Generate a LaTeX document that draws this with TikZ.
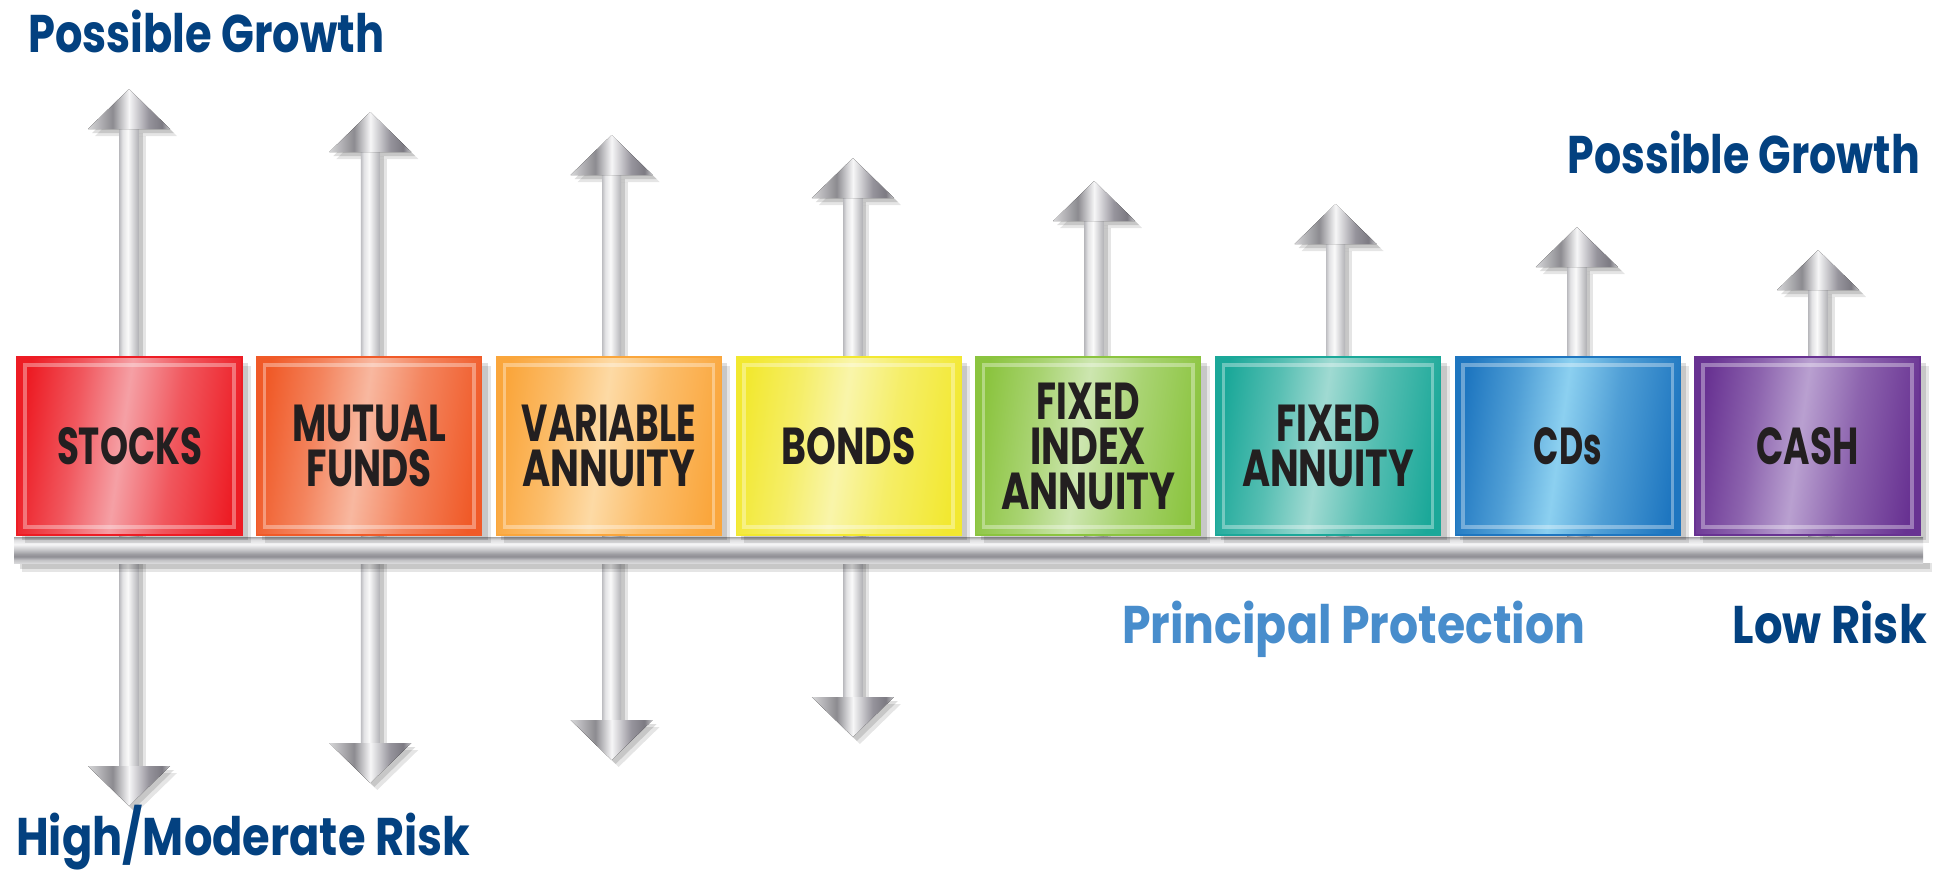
\documentclass[tikz,border=0pt]{standalone}
\usepackage{fontspec}
\usepackage{graphicx}
\newfontfamily\popb{Poppins Bold}
\usetikzlibrary{calc}

\newsavebox\fitbox
\newdimen\fitdim
\newcommand\fitw[2]{\sbox\fitbox{#2}\fitdim=\wd\fitbox\pgfmathsetmacro\fitfac{#1/\fitdim}\scalebox{\fitfac}[1]{\usebox\fitbox}}

\definecolor{titleblue}{RGB}{3,65,128}
\definecolor{protblue}{RGB}{72,141,204}
\definecolor{labelblack}{RGB}{35,31,32}
% shaft
\definecolor{sh0}{RGB}{190,190,194}
\definecolor{sh1}{RGB}{226,226,228}
\definecolor{sh2}{RGB}{250,250,250}
\definecolor{sh3}{RGB}{222,222,224}
\definecolor{sh4}{RGB}{196,196,199}
\definecolor{sh5}{RGB}{178,178,182}
% head
\definecolor{hd0}{RGB}{214,214,216}
\definecolor{hd1}{RGB}{140,139,144}
\definecolor{hd2}{RGB}{246,246,247}
\definecolor{hd3}{RGB}{150,148,156}
\definecolor{hd4}{RGB}{124,122,130}
\definecolor{hd5}{RGB}{200,200,203}
% bar
\definecolor{br1}{RGB}{165,165,168}
\definecolor{br2}{RGB}{220,220,222}
\definecolor{br3}{RGB}{246,246,247}
\definecolor{br4}{RGB}{196,196,199}
\definecolor{br5}{RGB}{158,158,162}
\definecolor{br6}{RGB}{143,142,148}
\definecolor{br7}{RGB}{194,194,197}
\definecolor{br8}{RGB}{216,216,218}
% boxes
\definecolor{c0e}{RGB}{237,28,36}   \definecolor{c0l}{RGB}{245,160,165}
\definecolor{c1e}{RGB}{240,90,40}   \definecolor{c1l}{RGB}{248,184,160}
\definecolor{c2e}{RGB}{250,166,60}  \definecolor{c2l}{RGB}{253,218,165}
\definecolor{c3e}{RGB}{242,232,48}  \definecolor{c3l}{RGB}{249,245,170}
\definecolor{c4e}{RGB}{139,196,63}  \definecolor{c4l}{RGB}{205,230,176}
\definecolor{c5e}{RGB}{27,168,153}  \definecolor{c5l}{RGB}{160,218,210}
\definecolor{c6e}{RGB}{30,118,192}  \definecolor{c6l}{RGB}{140,208,240}
\definecolor{c7e}{RGB}{104,50,146}  \definecolor{c7l}{RGB}{185,160,208}
\colorlet{boxedge}{c0e}\colorlet{boxlight}{c0l}\colorlet{boxmid}{c0e!50!c0l}

\pgfdeclarehorizontalshading{shaftsh}{100bp}{color(0bp)=(sh0); color(25bp)=(sh0); color(33bp)=(sh1); color(47bp)=(sh2); color(58bp)=(sh3); color(68bp)=(sh4); color(75bp)=(sh5); color(100bp)=(sh5)}
\pgfdeclarehorizontalshading{headsh}{100bp}{color(0bp)=(hd0); color(25bp)=(hd0); color(40bp)=(hd1); color(50bp)=(hd2); color(62bp)=(hd3); color(70bp)=(hd4); color(75bp)=(hd5); color(100bp)=(hd5)}
\pgfdeclareverticalshading{barsh}{100bp}{color(0bp)=(br8); color(25bp)=(br8); color(31bp)=(br7); color(37.5bp)=(br6); color(42.5bp)=(br5); color(50bp)=(br4); color(61bp)=(br3); color(70bp)=(br2); color(75bp)=(br1); color(100bp)=(br1)}
\pgfdeclarehorizontalshading[boxedge,boxmid,boxlight]{boxsh}{100bp}{color(0bp)=(boxedge); color(25bp)=(boxedge); color(37bp)=(boxmid); color(48bp)=(boxlight); color(60bp)=(boxmid); color(75bp)=(boxedge); color(100bp)=(boxedge)}

\tikzset{
  title/.style={inner sep=0pt, text=titleblue, font=\popb\fontsize{53}{60}\selectfont},
  boxnode/.style={minimum width=225pt, minimum height=178pt, inner sep=0pt,
    shading=boxsh, shading angle=-8, draw=boxedge, line width=1.2pt,
    font=\popb\fontsize{52}{45}\selectfont, text=labelblack, align=center},
  boxframe/.style={draw=white, draw opacity=0.35, line width=3.5pt},
  shadowA/.style={fill=black, fill opacity=0.13},
  shadowB/.style={fill=black, fill opacity=0.10},
}

\begin{document}
\begin{tikzpicture}[x=1pt,y=-1pt]
\useasboundingbox (0,0) rectangle (1950,870);
\fill[white] (0,0) rectangle (1950,870);

% ---------- arrow shadows ----------
\foreach \i in {0,...,7} {
  \pgfmathsetmacro\ax{129+241.3*\i}
  \pgfmathsetmacro\ty{89+23*\i}
  \pgfmathsetmacro\dy{806-23*\i}
  \pgfmathsetmacro\sb{\i<4 ? \dy-40 : 556}
  \foreach \o/\st in {4/shadowA,7/shadowB} {
    \fill[\st] (\ax-9.5+\o,\ty+40+\o) rectangle (\ax+9.5+\o,\sb+\o);
    \fill[\st] (\ax+\o,\ty+\o) -- (\ax+41+\o,\ty+40+\o) -- (\ax-41+\o,\ty+40+\o) -- cycle;
    \ifnum\i<4
      \fill[\st] (\ax+\o,\dy+\o) -- (\ax+41+\o,\dy-40+\o) -- (\ax-41+\o,\dy-40+\o) -- cycle;
    \fi
  }
}
% ---------- shafts ----------
\foreach \i in {0,...,7} {
  \pgfmathsetmacro\ax{129+241.3*\i}
  \pgfmathsetmacro\ty{89+23*\i}
  \pgfmathsetmacro\dy{806-23*\i}
  \pgfmathsetmacro\sb{\i<4 ? \dy-40 : 556}
  \fill[shading=shaftsh] (\ax-9.5,\ty+39) rectangle (\ax+9.5,\sb+1);
}
% ---------- heads ----------
\foreach \i in {0,...,7} {
  \pgfmathsetmacro\ax{129+241.3*\i}
  \pgfmathsetmacro\ty{89+23*\i}
  \pgfmathsetmacro\dy{806-23*\i}
  \fill[shading=headsh] (\ax,\ty) -- (\ax+41,\ty+40) -- (\ax-41,\ty+40) -- cycle;
  \ifnum\i<4
    \fill[shading=headsh] (\ax,\dy) -- (\ax+41,\dy-40) -- (\ax-41,\dy-40) -- cycle;
  \fi
}

% ---------- bar ----------
\fill[shadowA] (20,563) rectangle (1930,569);
\fill[shadowB] (22,563) rectangle (1932,572);
\fill[shading=barsh] (14,537) rectangle (1923,563);

% ---------- boxes ----------
\foreach \i/\lab in {0/{\fitw{145}{STOCKS}},
                     1/{\fitw{154}{MUTUAL}\\\fitw{125}{FUNDS}},
                     2/{\fitw{174}{VARIABLE}\\\fitw{173}{ANNUITY}},
                     3/{\fitw{134}{BONDS}},
                     4/{\fitw{103}{FIXED}\\\fitw{116}{INDEX}\\\fitw{174}{ANNUITY}},
                     5/{\fitw{104}{FIXED}\\\fitw{172}{ANNUITY}},
                     6/{\fitw{68}{CDs}},
                     7/{\fitw{102}{CASH}}} {
  \pgfmathsetmacro\bx{129.5+239.7*\i}
  \colorlet{boxedge}{c\i e}
  \colorlet{boxlight}{c\i l}
  \colorlet{boxmid}{c\i e!55!c\i l}
  \fill[shadowA] (\bx-112.5+5,357+6) rectangle (\bx+112.5+6,535+5);
  \fill[shadowB] (\bx-112.5+8,357+9) rectangle (\bx+112.5+9,535+8);
  \node[boxnode] (b\i) at (\bx,446) {\lab};
  \draw[boxframe] ([shift={(8.5,8.5)}]b\i.north west) rectangle ([shift={(-8.5,-8.5)}]b\i.south east);
}

% ---------- titles ----------
\node[title, anchor=base west] (pgl) at (28,52) {\fitw{356}{Possible Growth}};
\node[title, anchor=base east] (pgr) at (1920,173) {\fitw{352}{Possible Growth}};
\node[title, anchor=base west] (hmr) at (16,855) {\fitw{454}{High/Moderate Risk}};
\node[title, anchor=base west, text=protblue] (pp) at (1122,643) {\fitw{463}{Principal Protection}};
\node[title, anchor=base east] (lr) at (1927,643) {\fitw{194}{Low Risk}};
\end{tikzpicture}
\end{document}
